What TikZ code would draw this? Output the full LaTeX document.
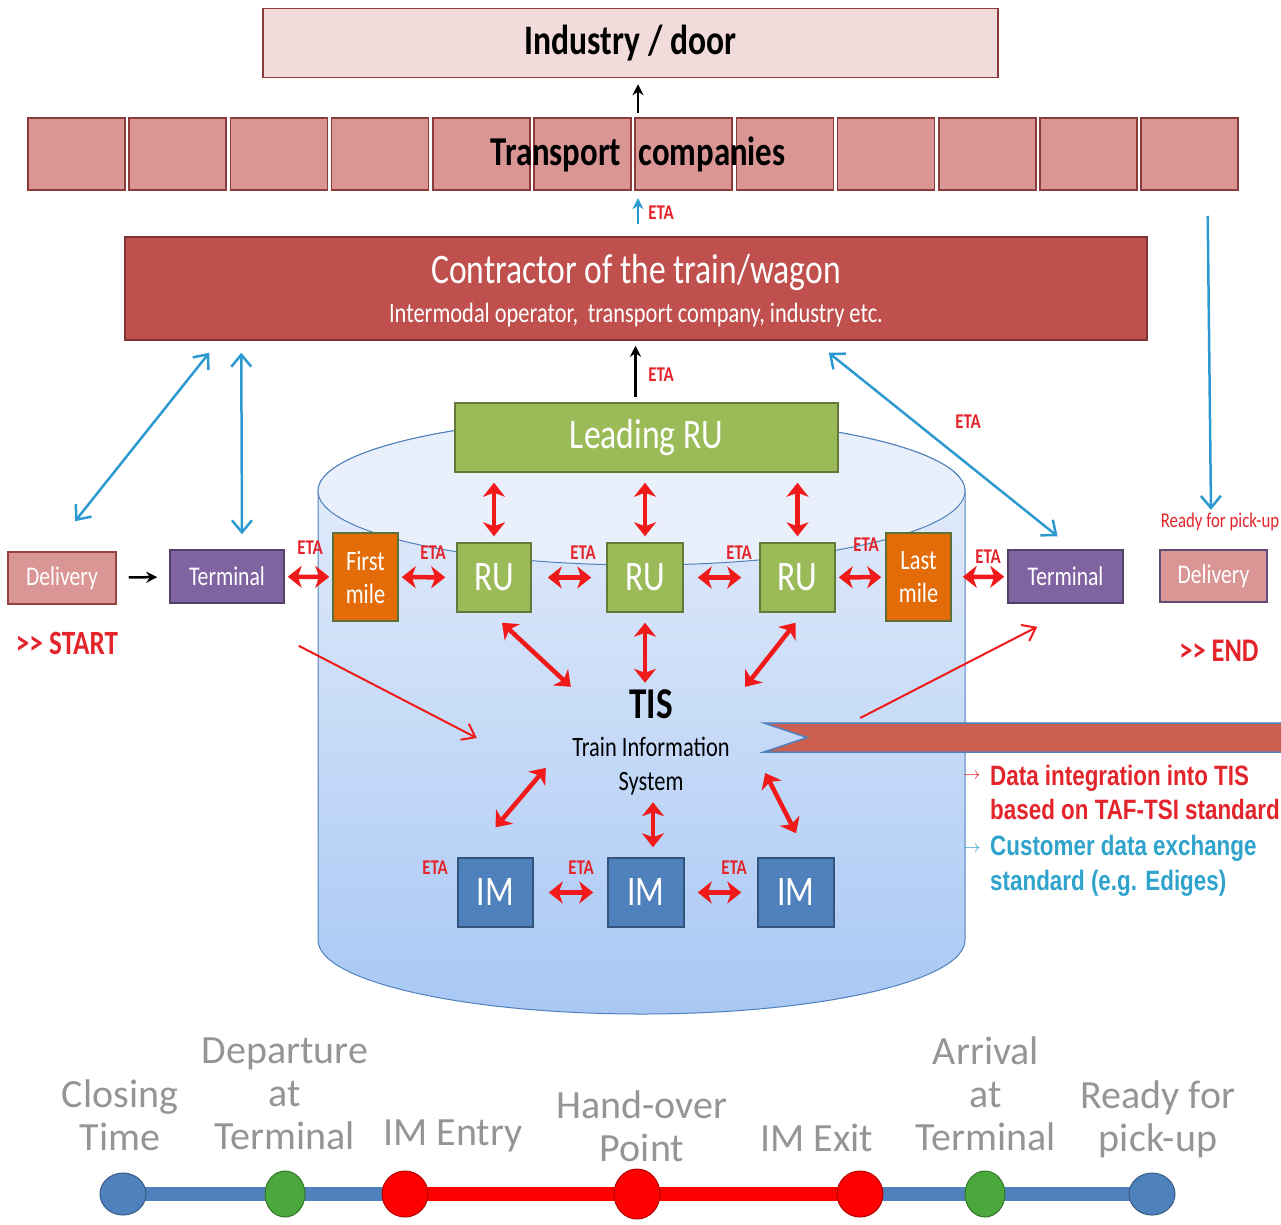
\documentclass[tikz,border=0pt]{standalone}
\usepackage{fontspec}
\setmainfont{Carlito}
\newfontfamily\narrowfont[FakeStretch=0.8]{Carlito}
\newfontfamily\arialnarrow[FakeStretch=0.8]{Liberation Sans}
\usetikzlibrary{shapes.geometric, arrows.meta, backgrounds, calc}

\definecolor{doorfill}{HTML}{F2DCDB}
\definecolor{doorline}{HTML}{8C3B3B}
\definecolor{tcfill}{HTML}{D99694}
\definecolor{contractfill}{HTML}{C0504D}
\definecolor{rugreen}{HTML}{9BBB59}
\definecolor{mileorange}{HTML}{E36C09}
\definecolor{termpurple}{HTML}{8064A2}
\definecolor{imblue}{HTML}{4F81BD}
\definecolor{etared}{HTML}{E3242B}
\definecolor{arrred}{HTML}{F01A1A}
\definecolor{arrblue}{HTML}{2C9AD1}
\definecolor{custteal}{HTML}{2FA3CB}
\definecolor{cyltop}{HTML}{E8EFFB}
\definecolor{cylbot}{HTML}{A8C8F4}
\definecolor{cylcap}{HTML}{EAF0FB}
\definecolor{cylline}{HTML}{4F81BD}
\definecolor{bannerfill}{HTML}{CD5F50}
\definecolor{tlgreen}{HTML}{4AA83C}
\definecolor{tlred}{HTML}{FF0000}
\definecolor{tgray}{HTML}{959595}

\begin{document}
\begin{tikzpicture}[x=1pt, y=-1pt,
    block/.style={
        rectangle,
        draw=#1!65!black,
        fill=#1,
        line width=1.5pt,
        inner sep=0pt,
        text=white,
        align=center,
        font=\narrowfont\fontsize{27}{30}\selectfont
    },
    eta/.style={text=etared, inner sep=0pt, font=\narrowfont\bfseries\fontsize{21}{22}\selectfont},
    redarrow/.style={<->, >={Stealth[length=14pt, width=22pt, inset=4pt]}, line width=4.5pt, draw=arrred},
    thinred/.style={->, >={Straight Barb[length=12pt, width=18pt]}, line width=2pt, draw=arrred},
    bluearrow/.style={<->, >={Straight Barb[length=12pt, width=20pt]}, line width=2.5pt, draw=arrblue},
    blackarrow/.style={->, >={Stealth[length=11pt, width=11pt]}, line width=2.5pt},
    tline/.style={line width=14pt},
    tdot/.style={ellipse, draw=#1!70!black, fill=#1, line width=1pt, inner sep=0pt},
    tlabel/.style={text=tgray, align=center, font=\fontsize{40}{43}\selectfont}
]
    \useasboundingbox (0,0) rectangle (1281,1224);

    % top: industry and transport companies
    \node[block=doorfill, draw=doorline, minimum width=735pt, minimum height=69pt, text=black,
          font=\narrowfont\bfseries\fontsize{42}{44}\selectfont] (door) at (630.5,43) {Industry / door};
    \foreach \i in {0,...,11}
        \node[block=tcfill, draw=doorline, minimum width=97pt, minimum height=72pt] (tc\i) at ({76.5+101.2*\i},154) {};
    \node[font=\narrowfont\bfseries\fontsize{41}{43}\selectfont, minimum height=72pt] (tclabel) at (638,154) {Transport\hspace{10pt} companies};
    \node[block=contractfill, minimum width=1022pt, minimum height=103pt] (contract) at (636,288.5) {};
    \node[text=white, font=\narrowfont\fontsize{42}{44}\selectfont] (ctitle) at (636,273) {Contractor of the train/wagon};
    \node[text=white, font=\narrowfont\fontsize{28}{30}\selectfont] (csub) at (636,315) {Intermodal operator,\, transport company, industry etc.};

    % cylinder
    \shade[top color=cyltop, bottom color=cylbot, draw=cylline, line width=1pt]
        (318,491) -- (318,940) arc[start angle=180, end angle=0, x radius=323.5, y radius=74]
        -- (965,491) arc[start angle=0, end angle=-180, x radius=323.5, y radius=74] -- cycle;
    \draw[cylline, fill=cylcap, line width=1pt] (641.5,491) ellipse [x radius=323.5, y radius=74];

    % RU level
    \node[block=rugreen, minimum width=383pt, minimum height=69pt, font=\narrowfont\fontsize{42}{44}\selectfont] (lead) at (646.5,437.5) {Leading RU};
    \node[block=rugreen, minimum width=74pt, minimum height=69pt, font=\narrowfont\fontsize{42}{44}\selectfont] (ru1) at (494,577.5) {RU};
    \node[block=rugreen, minimum width=76pt, minimum height=69pt, font=\narrowfont\fontsize{42}{44}\selectfont] (ru2) at (645,577.5) {RU};
    \node[block=rugreen, minimum width=75pt, minimum height=69pt, font=\narrowfont\fontsize{42}{44}\selectfont] (ru3) at (797.5,577.5) {RU};
    \node[block=mileorange, draw=rugreen!60!black, minimum width=65pt, minimum height=88pt, font=\narrowfont\fontsize{28}{33}\selectfont] (first) at (365.5,577) {First\\mile};
    \node[block=mileorange, draw=rugreen!60!black, minimum width=65pt, minimum height=88pt, font=\narrowfont\fontsize{28}{33}\selectfont] (last) at (918.5,577) {Last\\mile};
    \node[block=termpurple, minimum width=114pt, minimum height=53pt] (termL) at (227,576.5) {Terminal};
    \node[block=termpurple, minimum width=115pt, minimum height=53pt] (termR) at (1065.5,576.5) {Terminal};
    \node[block=tcfill, draw=contractfill!80!black, minimum width=108pt, minimum height=52pt] (dlvL) at (62,578) {Delivery};
    \node[block=tcfill, draw=termpurple!75!black, minimum width=107pt, minimum height=52pt] (dlvR) at (1213.5,576) {Delivery};
    \node[text=etared, font=\narrowfont\bfseries\fontsize{34}{36}\selectfont] (start) at (67,643) {>> START};
    \node[text=etared, font=\narrowfont\bfseries\fontsize{33}{35}\selectfont] (end) at (1219,651) {>> END};
    \node[text=etared, inner sep=1pt, font=\narrowfont\fontsize{21}{23}\selectfont] (ready) at (1220,522) {Ready for pick-up};

    % TIS and IM level
    \node[align=center, minimum width=190pt, minimum height=130pt, inner sep=0pt,
          font=\narrowfont\fontsize{28}{34}\selectfont] (tis) at (651,742)
          {{\bfseries\fontsize{44}{44}\selectfont TIS}\\[4pt]Train Information\\System};
    \node[block=imblue, minimum width=75pt, minimum height=69pt, font=\narrowfont\fontsize{42}{44}\selectfont] (im1) at (495.5,892.5) {IM};
    \node[block=imblue, minimum width=76pt, minimum height=69pt, font=\narrowfont\fontsize{42}{44}\selectfont] (im2) at (646,892.5) {IM};
    \node[block=imblue, minimum width=76pt, minimum height=69pt, font=\narrowfont\fontsize{42}{44}\selectfont] (im3) at (796,892.5) {IM};

    \draw[bannerfill, fill=bannerfill] (764,723) -- (1285,723) -- (1285,752) -- (764,752) -- (807,737.5) -- cycle;
    \draw[cylline, line width=1.5pt] (1285,723) -- (764,723) -- (807,737.5) -- (764,752) -- (1285,752);

    % ETA labels
    \node[eta] (etaTop) at (661,213) {ETA};
    \node[eta] (etaMid) at (661,375) {ETA};
    \node[eta] (etaR) at (968,422) {ETA};
    \node[eta] (eta1) at (310,548) {ETA};
    \node[eta] (eta2) at (433,553) {ETA};
    \node[eta] (eta3) at (583,553) {ETA};
    \node[eta] (eta4) at (739,553) {ETA};
    \node[eta] (eta5) at (866,545) {ETA};
    \node[eta] (eta6) at (988,557) {ETA};
    \node[eta] (etaI1) at (435,868) {ETA};
    \node[eta] (etaI2) at (581,868) {ETA};
    \node[eta] (etaI3) at (734,868) {ETA};

    % black and blue arrows
    \draw[blackarrow, shorten >=6pt, shorten <=5pt] (tclabel.north) -- (tclabel.north |- door.south);
    \draw[->, >={Stealth[length=11pt, width=11pt]}, line width=2.5pt, draw=arrblue, shorten >=8pt, shorten <=12pt] (contract.north -| tclabel.south) -- (tclabel.south);
    \draw[blackarrow, shorten >=5pt, shorten <=5pt] ([xshift=-11pt]lead.north) -- ([xshift=-11pt]lead.north |- contract.south);
    \draw[blackarrow, shorten >=12pt, shorten <=12pt] (dlvL) -- (termL);
    \draw[bluearrow] ([xshift=85pt,yshift=-12pt]contract.south west) -- ([xshift=13pt,yshift=30pt]dlvL.north);
    \draw[bluearrow] ([xshift=117pt,yshift=-12pt]contract.south west) -- ([xshift=15pt,yshift=15pt]termL.north);
    \draw[bluearrow] ([xshift=-319pt,yshift=-12pt]contract.south east) -- ([xshift=-8pt,yshift=13pt]termR.north);
    \draw[bluearrow, <-] ([xshift=-9pt,yshift=2pt]ready.north) -- ([xshift=18pt,yshift=-25pt]tc11.south);

    % red arrows
    \draw[redarrow, shorten <=3pt, shorten >=3pt] (termL) -- (first);
    \draw[redarrow, shorten <=3pt, shorten >=11pt] (first) -- (ru1);
    \draw[redarrow, shorten <=16pt, shorten >=15pt] (ru1) -- (ru2);
    \draw[redarrow, shorten <=14pt, shorten >=18pt] (ru2) -- (ru3);
    \draw[redarrow, shorten <=3pt, shorten >=4pt] (ru3) -- (last);
    \draw[redarrow, shorten <=11pt, shorten >=3pt] (last) -- (termR);
    \foreach \r in {ru1,ru2,ru3}
        \draw[redarrow, shorten <=10pt, shorten >=6pt] (\r.north |- lead.south) -- (\r.north);
    \draw[redarrow] ([xshift=8pt,yshift=-10pt]ru1.south) -- ([xshift=15pt,yshift=-10pt]tis.north west);
    \draw[redarrow] ([yshift=-10pt]ru2.south) -- ([yshift=-6pt]ru2.south |- tis.north);
    \draw[redarrow] ([xshift=-2pt,yshift=-10pt]ru3.south) -- ([xshift=-1pt,yshift=-10pt]tis.north east);
    \draw[redarrow] ([xshift=-10pt,yshift=-26pt]tis.west) -- ([yshift=30pt]im1.north);
    \draw[redarrow] ([xshift=7pt,yshift=5pt]tis.south -| im2.north) -- ([xshift=7pt,yshift=10pt]im2.north);
    \draw[redarrow] ([xshift=19pt,yshift=-31pt]tis.east) -- ([yshift=24pt]im3.north);
    \draw[redarrow, shorten <=15pt, shorten >=14pt] (im1) -- (im2);
    \draw[redarrow, shorten <=13pt, shorten >=16pt] (im2) -- (im3);
    \draw[thinred] ([xshift=14pt,yshift=-42pt]termL.south east) -- ([xshift=-79pt,yshift=4pt]tis.west);
    \draw[thinred] ([xshift=114pt,yshift=24pt]tis.east) -- ([xshift=30pt,yshift=-23pt]termR.south west);

    % legend
    \node[text=etared, font=\fontsize{18}{18}\selectfont] (arrA) at (972,776) {$\rightarrow$};
    \node[text=etared, anchor=west, align=left, inner sep=0pt, font=\arialnarrow\bfseries\fontsize{28}{34}\selectfont] (dataint) at (990,792) {Data integration into TIS\\based on TAF-TSI standard};
    \node[text=custteal, font=\fontsize{18}{18}\selectfont] (arrB) at (972,849) {$\rightarrow$};
    \node[text=custteal, anchor=west, align=left, inner sep=0pt, font=\arialnarrow\bfseries\fontsize{28}{35}\selectfont] (custdata) at (990,866) {Customer data exchange\\standard (e.g. Ediges)};

    % timeline
    \node[tdot=imblue, minimum width=46pt, minimum height=42pt] (t1) at (123,1194) {};
    \node[tdot=tlgreen, minimum width=40pt, minimum height=46pt] (t2) at (285,1194) {};
    \node[tdot=tlred, minimum width=46pt, minimum height=46pt] (t3) at (405,1194) {};
    \node[tdot=tlred, minimum width=46pt, minimum height=50pt] (t4) at (637,1194) {};
    \node[tdot=tlred, minimum width=46pt, minimum height=46pt] (t5) at (860,1194) {};
    \node[tdot=tlgreen, minimum width=40pt, minimum height=46pt] (t6) at (985,1194) {};
    \node[tdot=imblue, minimum width=46pt, minimum height=42pt] (t7) at (1152,1194) {};
    \begin{scope}[on background layer]
        \draw[tline, imblue] (t1.center) -- (t2.center) -- (t3.center);
        \draw[tline, tlred] (t3.center) -- (t4.center) -- (t5.center);
        \draw[tline, imblue] (t5.center) -- (t6.center) -- (t7.center);
    \end{scope}
    \node[tlabel] (closing) at (120,1115) {Closing\\Time};
    \node[tlabel] (depart) at (285,1094) {Departure\\at\\Terminal};
    \node[tlabel] (imentry) at (453,1136) {IM Entry};
    \node[tlabel] (handover) at (642,1126) {Hand-over\\Point};
    \node[tlabel] (imexit) at (817,1138) {IM Exit};
    \node[tlabel] (arrival) at (986,1094) {Arrival\\at\\Terminal};
    \node[tlabel] (pickup) at (1158,1119) {Ready for\\pick-up};
\end{tikzpicture}
\end{document}
